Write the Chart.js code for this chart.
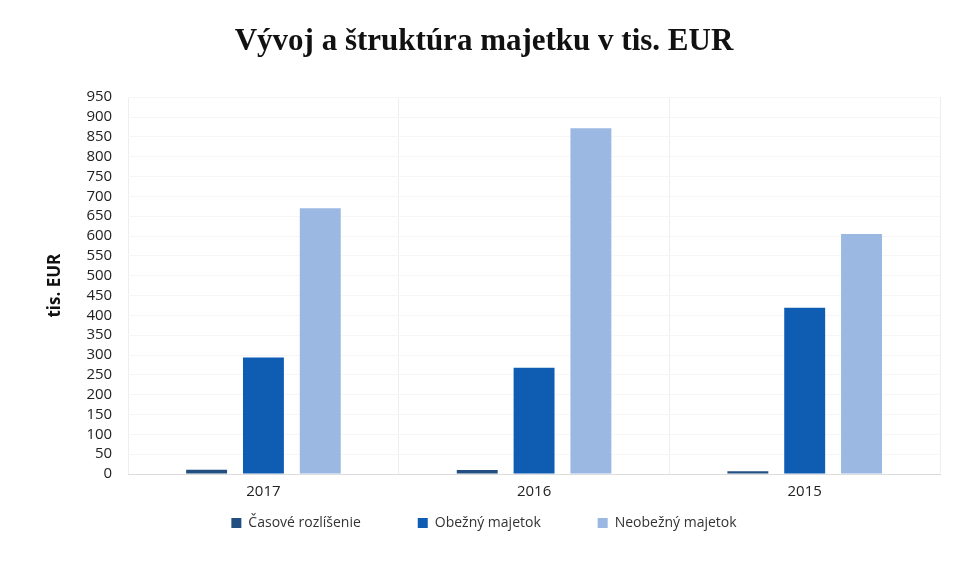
<!DOCTYPE html>
<html>
<head>
<meta charset="utf-8">
<script src="https://cdn.jsdelivr.net/npm/chart.js@4"></script>
<style>
  html, body { margin: 0; padding: 0; background: #ffffff; }
  #wrap { width: 954px; height: 573px; }
</style>
</head>
<body>
<div id="wrap"><canvas id="myChart" width="954" height="573"></canvas></div>
<script>
'use strict'
// data
var years = ['2017', '2016', '2015'];
var casoveRozlisenie = [11, 10, 7];
var obezny = [294, 268, 419];
var neobezny = [670, 872, 605];
var yTicks = [0, 50, 100, 150, 200, 250, 300, 350, 400, 450, 500, 550, 600, 650, 700, 750, 800, 850, 900, 950];

// extra space after the first two legend entries (the library uses one padding for both directions)
var legendGap = '              ';

var ctx = document.getElementById('myChart').getContext('2d');

var chart = new Chart(ctx, {
    type: 'bar',
    data: {
        labels: years,
        datasets: [{
            label: 'Časové rozlíšenie',
            backgroundColor: '#234f80',
            data: casoveRozlisenie
        }, {
            label: 'Obežný majetok',
            backgroundColor: '#0f5db3',
            data: obezny
        }, {
            label: 'Neobežný majetok',
            backgroundColor: '#9ab8e1',
            data: neobezny
        }]
    },
    options: {
        responsive: false,
        animation: false,
        layout: { padding: { left: 28, right: 14, top: 10, bottom: 33 } },
        datasets: {
            bar: { categoryPercentage: 0.63, barPercentage: 0.72 }
        },
        plugins: {
            title: {
                display: true,
                text: 'Vývoj a štruktúra majetku v tis. EUR',
                color: '#111111',
                font: { family: '"Liberation Serif", "Times New Roman", serif', size: 31, weight: 'bold' },
                padding: { top: 13, bottom: 37 }
            },
            legend: {
                position: 'bottom',
                labels: {
                    color: '#333333',
                    font: { family: '"Open Sans", sans-serif', size: 14 },
                    boxWidth: 10,
                    boxHeight: 10,
                    padding: 6,
                    generateLabels: function (chart) {
                        var items = Chart.defaults.plugins.legend.labels.generateLabels(chart);
                        items.forEach(function (it, i) {
                            if (i < items.length - 1) { it.text = it.text + legendGap; }
                        });
                        return items;
                    }
                }
            },
            tooltip: { enabled: false }
        },
        scales: {
            x: {
                grid: { display: true, offset: true, color: '#eeeeee', drawTicks: false },
                border: { color: '#dcdcdc' },
                ticks: {
                    color: '#222222',
                    padding: 9,
                    font: { family: '"Open Sans", sans-serif', size: 15 }
                }
            },
            y: {
                min: 0,
                max: 950,
                afterBuildTicks: function (axis) {
                    axis.ticks = yTicks.map(function (v) { return { value: v }; });
                },
                grid: { color: '#f6f6f6', drawTicks: false },
                border: { display: false },
                ticks: {
                    autoSkip: false,
                    color: '#222222',
                    padding: 16,
                    font: { family: '"Open Sans", sans-serif', size: 15 }
                },
                title: {
                    display: true,
                    text: 'tis. EUR',
                    color: '#111111',
                    font: { family: '"Open Sans", sans-serif', size: 17, weight: 'bold' },
                    padding: { top: 17, bottom: 5 }
                }
            }
        }
    }
});
</script>
</body>
</html>
